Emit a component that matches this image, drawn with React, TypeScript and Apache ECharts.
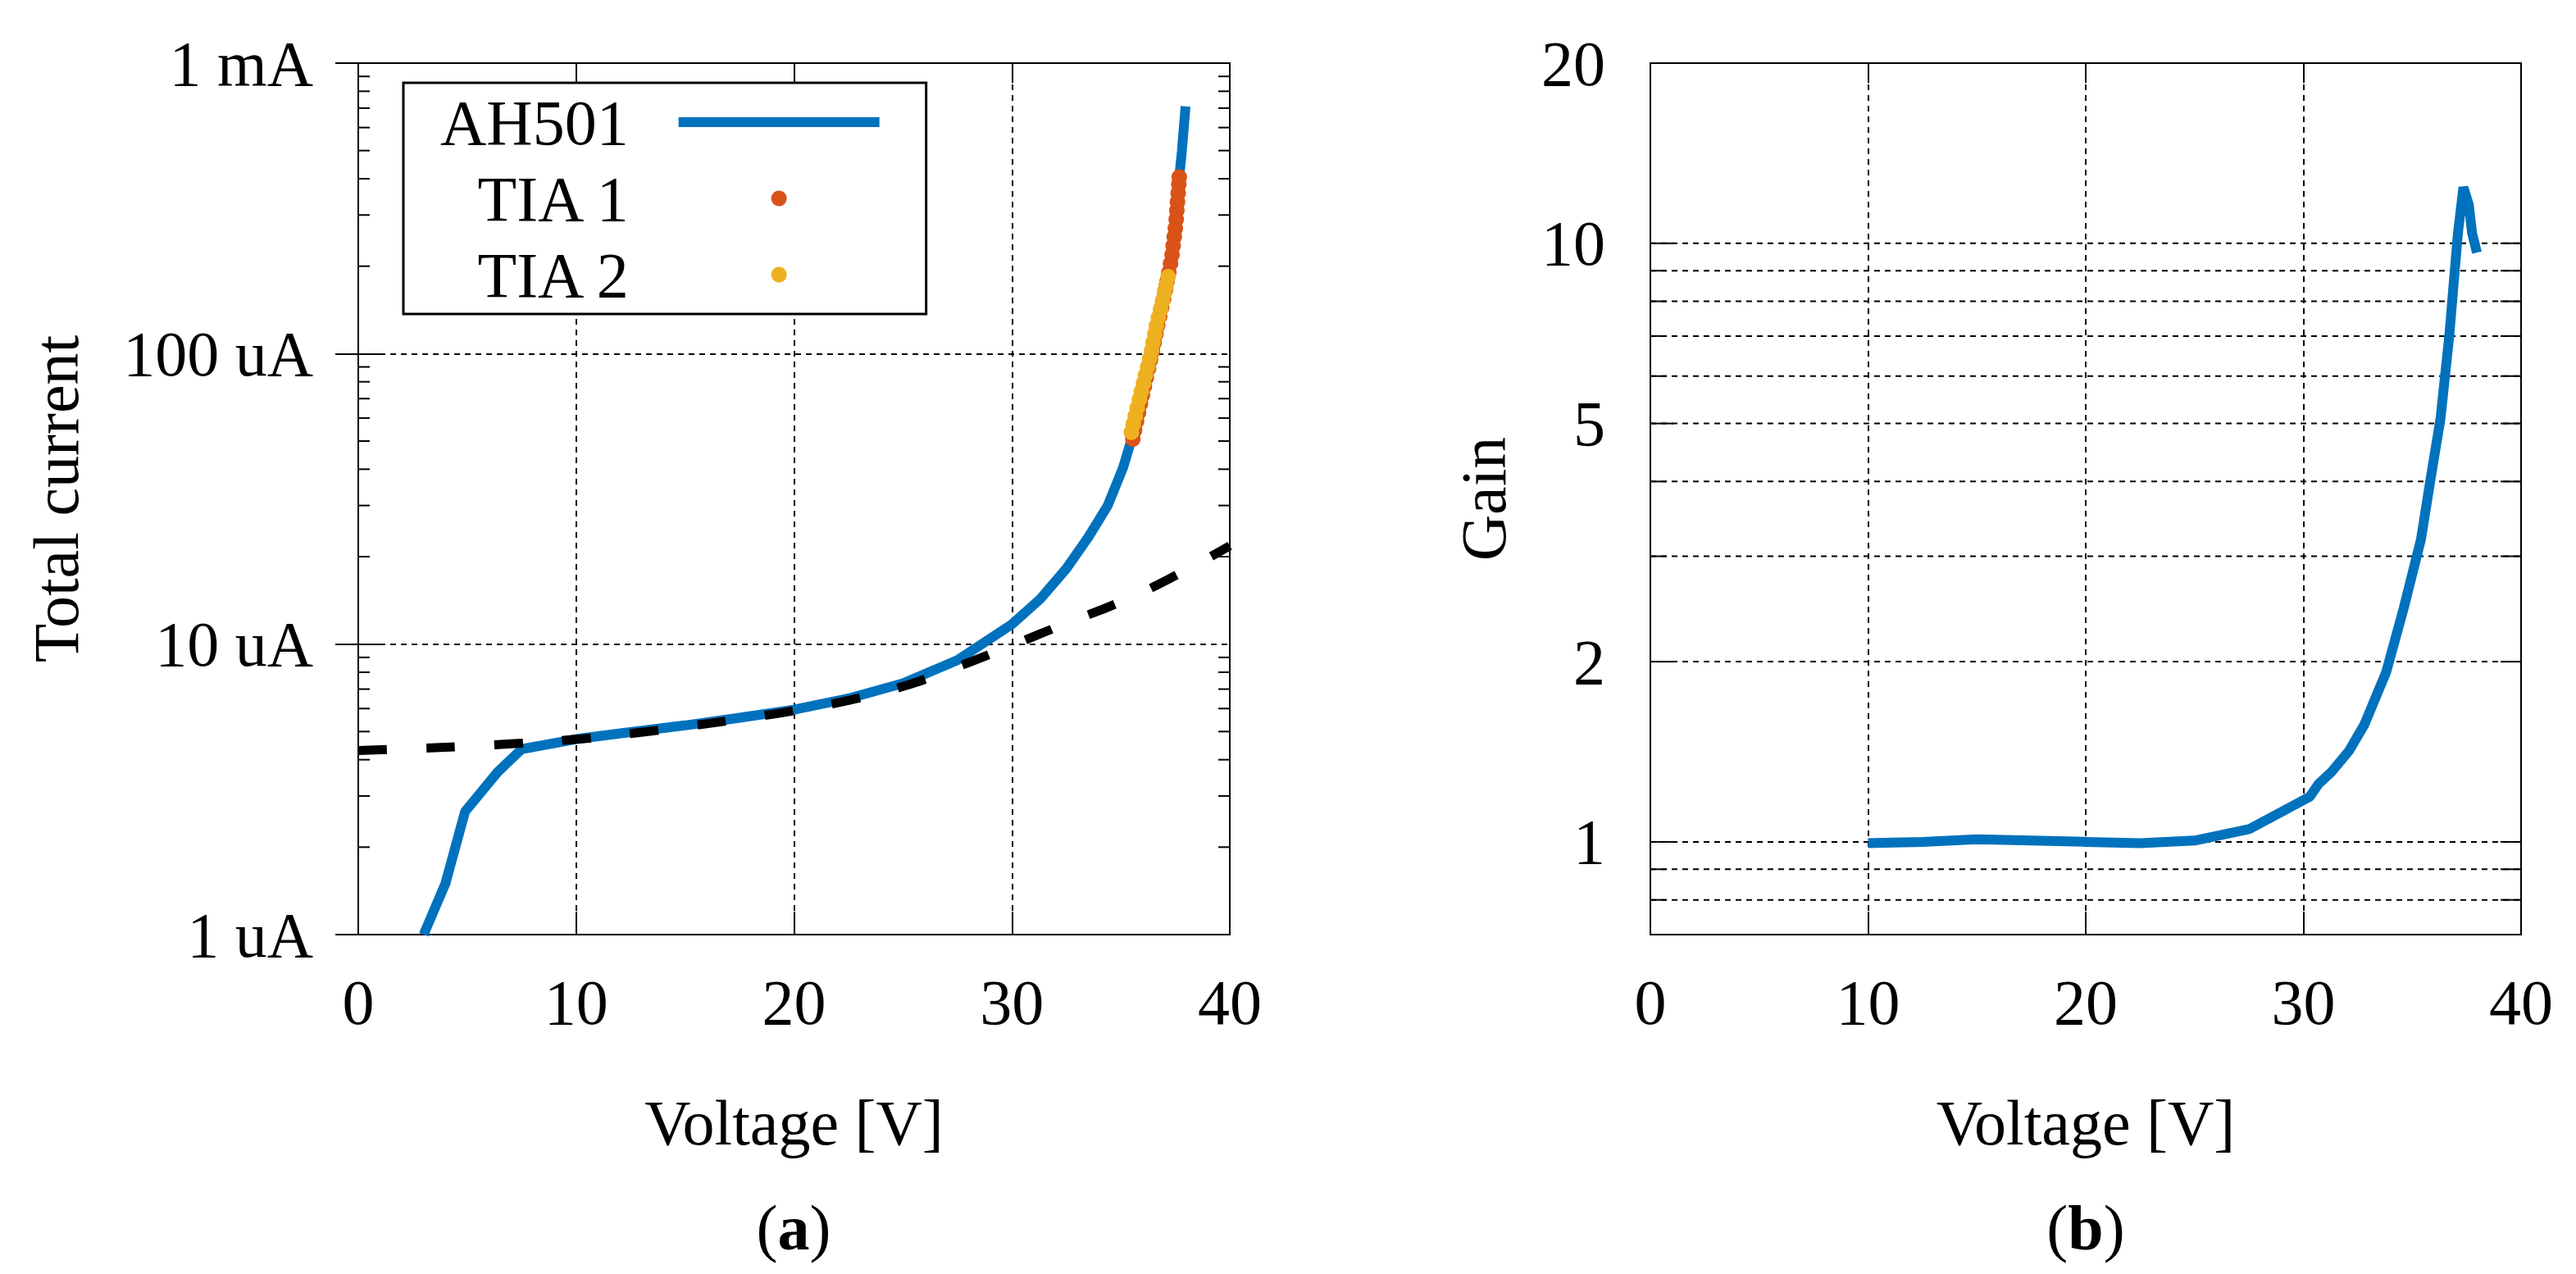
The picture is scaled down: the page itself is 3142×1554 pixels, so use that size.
import { useEffect, useRef } from "react";
import * as echarts from "echarts";

const FONT = '"Liberation Serif", "DejaVu Serif", serif';

// (a) total current against voltage, currents in uA
const ahVoltage = [3.0, 4.0, 4.9, 6.4, 7.5, 10, 12.5, 15, 17.5, 20, 22.5, 25, 27.5, 30, 31.3, 32.5, 33.5, 34.4, 35.1, 35.6, 36.1, 36.6, 37.1, 37.36, 37.55, 37.68, 37.8, 37.97];
const ahCurrent = [1.0, 1.5, 2.65, 3.63, 4.35, 4.71, 4.98, 5.25, 5.58, 5.95, 6.5, 7.33, 8.81, 11.7, 14.3, 18.2, 23.3, 30, 40.5, 54, 80, 120, 176, 223, 296, 405, 497, 710];

const fitVoltage = [0, 2.5, 5, 7.5, 10, 12.5, 15, 17.5, 20, 22.5, 25, 27.5, 30, 32.5, 35, 37.5, 40];
const fitCurrent = [4.3, 4.37, 4.45, 4.56, 4.7, 4.92, 5.2, 5.52, 5.9, 6.4, 7.15, 8.35, 9.9, 11.8, 14.0, 17.2, 21.8];

const tia1Voltage = [35.55, 35.63, 35.72, 35.81, 35.9, 35.99, 36.08, 36.17, 36.27, 36.36, 36.45, 36.53, 36.61, 36.69, 36.78, 36.87, 36.96, 37.04, 37.12, 37.2, 37.28, 37.35, 37.4, 37.45, 37.5, 37.54, 37.57, 37.6, 37.63, 37.66, 37.68];
const tia1Current = [50.8, 54.5, 58.5, 62.7, 67.2, 72, 77.2, 82.8, 88.8, 95.2, 102, 109, 117, 125, 134, 144, 154, 165, 177, 190, 204, 219, 235, 252, 270, 290, 311, 333, 357, 383, 405];

const tia2Voltage = [35.48, 35.57, 35.66, 35.75, 35.85, 35.94, 36.04, 36.13, 36.23, 36.32, 36.41, 36.48, 36.56, 36.63, 36.72, 36.82, 36.91, 37.0, 37.08, 37.17];
const tia2Current = [53.6, 57.2, 61.0, 65.1, 69.5, 74.1, 79.1, 84.4, 90.1, 96.1, 102.5, 109.4, 116.7, 124.5, 132.9, 141.8, 151.3, 161.4, 172.2, 184];

const currentMinorTicks = [2, 3, 4, 5, 6, 7, 8, 9, 20, 30, 40, 50, 60, 70, 80, 90, 200, 300, 400, 500, 600, 700, 800, 900];

// (b) gain against voltage
const gainVoltage = [10, 12.5, 15, 17.5, 20, 22.5, 25, 27.5, 30.3, 30.7, 31.3, 32.1, 32.8, 33.8, 34.6, 35.4, 35.8, 36.3, 36.7, 37.1, 37.35, 37.6, 37.75, 37.97];
const gainValues = [0.995, 1.0, 1.01, 1.005, 1.0, 0.995, 1.005, 1.05, 1.19, 1.25, 1.31, 1.42, 1.57, 1.92, 2.45, 3.2, 3.95, 5.1, 7.0, 10.4, 12.4, 11.6, 10.4, 9.65];

const gainGridLines = [0.8, 0.9, 1, 2, 3, 4, 5, 6, 7, 8, 9, 10];
const gainLabels = [1, 2, 5, 10, 20];

const BLUE = "#0072BD";
const ORANGE = "#D95319";
const YELLOW = "#EDB120";

const gridDash = { color: "#000", width: 2, type: [7, 6] as number[] };
const frame = { color: "#000", width: 2 };
const labelFont = { fontSize: 78, fontFamily: FONT, color: "#000" };

function xAxes(gridIndex: number) {
  return [
    {
      gridIndex,
      type: "value",
      min: 0,
      max: 40,
      interval: 10,
      position: "bottom",
      axisLine: { show: true, lineStyle: frame },
      axisTick: { show: true, inside: true, length: 28, lineStyle: frame },
      axisLabel: { ...labelFont, margin: 43 },
      splitLine: { show: true, lineStyle: gridDash },
      name: "Voltage [V]",
      nameLocation: "middle",
      nameGap: 190,
      nameTextStyle: labelFont,
    },
    {
      gridIndex,
      type: "value",
      min: 0,
      max: 40,
      interval: 10,
      position: "top",
      axisLine: { show: true, lineStyle: frame },
      axisTick: { show: true, inside: true, length: 24, lineStyle: frame },
      axisLabel: { show: false },
      splitLine: { show: false },
    },
  ];
}

const captionRich = {
  p: { fontSize: 78, fontFamily: FONT, fill: "#000", color: "#000" },
  b: { fontSize: 78, fontFamily: FONT, fontWeight: "bold", fill: "#000", color: "#000" },
};

export default function App() {
  const chartRef = useRef<HTMLDivElement>(null);

  useEffect(() => {
    if (!chartRef.current) return;
    const chart = echarts.init(chartRef.current, null, { renderer: "svg" });

    const option: any = {
      animation: false,
      textStyle: { fontFamily: FONT },
      grid: [
        { left: 437, top: 77, width: 1063, height: 1063, show: true, borderColor: "#000", borderWidth: 2, outerBoundsMode: "none" },
        { left: 2013, top: 77, width: 1062, height: 1063, show: true, borderColor: "#000", borderWidth: 2, outerBoundsMode: "none" },
      ],
      xAxis: [...xAxes(0), ...xAxes(1)],
      yAxis: [
        {
          gridIndex: 0,
          type: "log",
          logBase: 10,
          min: 1,
          max: 1000,
          axisLine: { show: true, lineStyle: frame },
          axisTick: { show: true, inside: true, length: 28, lineStyle: frame },
          axisLabel: {
            ...labelFont,
            margin: 55,
            formatter: (v: number) => {
              const r = Math.round(v);
              return r >= 1000 ? `${r / 1000} mA` : `${r} uA`;
            },
          },
          splitLine: { show: true, lineStyle: gridDash },
          name: "Total current",
          nameLocation: "middle",
          nameGap: 330,
          nameRotate: 90,
          nameTextStyle: labelFont,
        },
        {
          gridIndex: 0,
          type: "log",
          logBase: 10,
          min: 1,
          max: 1000,
          position: "right",
          axisLine: { show: true, lineStyle: frame },
          axisTick: { show: true, inside: true, length: 28, lineStyle: frame },
          axisLabel: { show: false },
          splitLine: { show: false },
        },
        {
          gridIndex: 1,
          type: "log",
          logBase: 10,
          min: 0.7,
          max: 20,
          axisLine: { show: true, lineStyle: frame },
          axisTick: { show: false },
          axisLabel: { show: false },
          splitLine: { show: false },
          name: "Gain",
          nameLocation: "middle",
          nameGap: 165,
          nameRotate: 90,
          nameTextStyle: labelFont,
        },
      ],
      legend: {
        data: [
          { name: "AH501", icon: "path://M0 0H245V12H0Z" },
          { name: "TIA 1", icon: "circle" },
          { name: "TIA 2", icon: "circle" },
        ],
        orient: "vertical",
        left: 492,
        top: 101,
        align: "right",
        itemWidth: 245,
        itemHeight: 19,
        itemGap: 15,
        padding: [9, 57, 9, 45],
        borderColor: "#000",
        borderWidth: 3,
        backgroundColor: "#fff",
        selectedMode: false,
        formatter: (name: string) => `{t|${name}}`,
        textStyle: {
          color: "#000",
          rich: {
            t: { fontSize: 78, fontFamily: FONT, color: "#000", lineHeight: 76, padding: [0, 56, 0, 0] },
          },
        },
      },
      graphic: [
        {
          type: "text",
          x: 968,
          y: 1497,
          style: { text: "{p|(}{b|a}{p|)}", align: "center", verticalAlign: "middle", rich: captionRich },
        },
        {
          type: "text",
          x: 2544,
          y: 1497,
          style: { text: "{p|(}{b|b}{p|)}", align: "center", verticalAlign: "middle", rich: captionRich },
        },
      ],
      series: [
        {
          type: "custom",
          name: "minor ticks",
          xAxisIndex: 0,
          yAxisIndex: 0,
          silent: true,
          z: 1,
          encode: { x: 0, y: 1 },
          data: currentMinorTicks.map((v) => [0, v]),
          renderItem: (params: any, api: any) => {
            const cs = params.coordSys;
            const y = api.coord([api.value(0), api.value(1)])[1];
            const st = { stroke: "#000", lineWidth: 2 };
            return {
              type: "group",
              children: [
                { type: "line", shape: { x1: cs.x, y1: y, x2: cs.x + 14, y2: y }, style: st },
                { type: "line", shape: { x1: cs.x + cs.width - 14, y1: y, x2: cs.x + cs.width, y2: y }, style: st },
              ],
            };
          },
        },
        {
          type: "line",
          name: "AH501",
          xAxisIndex: 0,
          yAxisIndex: 0,
          symbol: "none",
          showSymbol: false,
          z: 3,
          color: BLUE,
          itemStyle: { color: BLUE, opacity: 1 },
          lineStyle: { color: BLUE, width: 12 },
          data: ahVoltage.map((v, i) => [v, ahCurrent[i]]),
        },
        {
          type: "line",
          name: "fit",
          xAxisIndex: 0,
          yAxisIndex: 0,
          symbol: "none",
          smooth: true,
          z: 4,
          color: "#000",
          lineStyle: { color: "#000", width: 11, type: [35, 48] },
          data: fitVoltage.map((v, i) => [v, fitCurrent[i]]),
        },
        {
          type: "scatter",
          name: "TIA 1",
          xAxisIndex: 0,
          yAxisIndex: 0,
          symbol: "circle",
          symbolSize: 19,
          z: 5,
          itemStyle: { color: ORANGE, opacity: 1 },
          data: tia1Voltage.map((v, i) => [v, tia1Current[i]]),
        },
        {
          type: "scatter",
          name: "TIA 2",
          xAxisIndex: 0,
          yAxisIndex: 0,
          symbol: "circle",
          symbolSize: 19,
          z: 6,
          itemStyle: { color: YELLOW, opacity: 1 },
          data: tia2Voltage.map((v, i) => [v, tia2Current[i]]),
        },
        {
          type: "custom",
          name: "gain grid",
          xAxisIndex: 2,
          yAxisIndex: 2,
          silent: true,
          z: 1,
          encode: { x: 0, y: 1 },
          data: gainGridLines.map((v) => [0, v]),
          renderItem: (params: any, api: any) => {
            const cs = params.coordSys;
            const v = api.value(1);
            const y = api.coord([api.value(0), v])[1];
            const len = gainLabels.includes(Math.round(v * 10) / 10) ? 28 : 20;
            const st = { stroke: "#000", lineWidth: 2 };
            return {
              type: "group",
              children: [
                { type: "line", shape: { x1: cs.x, y1: y, x2: cs.x + cs.width, y2: y }, style: { ...st, lineDash: [7, 6] } },
                { type: "line", shape: { x1: cs.x, y1: y, x2: cs.x + len, y2: y }, style: st },
                { type: "line", shape: { x1: cs.x + cs.width - 25, y1: y, x2: cs.x + cs.width, y2: y }, style: st },
              ],
            };
          },
        },
        {
          type: "custom",
          name: "gain labels",
          xAxisIndex: 2,
          yAxisIndex: 2,
          silent: true,
          z: 1,
          encode: { x: 0, y: 1 },
          data: gainLabels.map((v) => [0, v]),
          renderItem: (params: any, api: any) => {
            const cs = params.coordSys;
            const v = api.value(1);
            const y = api.coord([api.value(0), v])[1];
            return {
              type: "text",
              x: cs.x - 55,
              y,
              style: {
                text: String(v),
                fontSize: 78,
                fontFamily: FONT,
                fill: "#000",
                align: "right",
                verticalAlign: "middle",
              },
            };
          },
        },
        {
          type: "line",
          name: "Gain",
          xAxisIndex: 2,
          yAxisIndex: 2,
          symbol: "none",
          z: 3,
          color: BLUE,
          lineStyle: { color: BLUE, width: 12 },
          data: gainVoltage.map((v, i) => [v, gainValues[i]]),
        },
      ],
    };

    chart.setOption(option);

    return () => {
      chart.dispose();
    };
  }, []);

  return (
    <div
      ref={chartRef}
      style={{ position: "fixed", left: 0, top: 0, width: "3142px", height: "1554px", background: "#fff" }}
    />
  );
}
